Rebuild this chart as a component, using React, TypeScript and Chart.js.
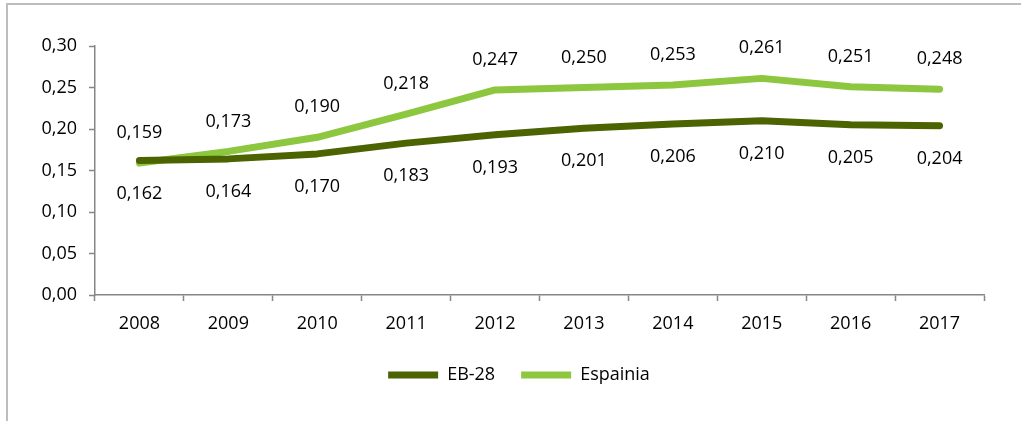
import React, { useEffect, useRef } from "react";
import { Chart, registerables } from "chart.js";

Chart.register(...registerables);

const years = ["2008", "2009", "2010", "2011", "2012", "2013", "2014", "2015", "2016", "2017"];
const eb28 = [0.162, 0.164, 0.17, 0.183, 0.193, 0.201, 0.206, 0.21, 0.205, 0.204];
const espainia = [0.159, 0.173, 0.19, 0.218, 0.247, 0.25, 0.253, 0.261, 0.251, 0.248];
const seriesNames = ["EB-28", "Espainia"];
const seriesColors = ["#4B6300", "#8DC63F"];

const FONT = "'Open Sans', sans-serif";

const dataLabels = {
  id: "dataLabels",
  afterDatasetsDraw(chart: any) {
    const ctx = chart.ctx;
    ctx.save();
    ctx.font = `18px ${FONT}`;
    ctx.fillStyle = "#000";
    ctx.textAlign = "center";
    ctx.textBaseline = "middle";
    chart.data.datasets.forEach((ds: any, di: number) => {
      const meta = chart.getDatasetMeta(di);
      meta.data.forEach((pt: any, i: number) => {
        const v = ds.data[i] as number;
        const txt = v.toFixed(3).replace(".", ",");
        const dy = di === 1 ? -30 : 33;
        ctx.fillText(txt, pt.x, pt.y + dy);
      });
    });
    ctx.restore();
  },
};

const legendShift = {
  id: "legendShift",
  afterLayout(chart: any) {
    const lg = chart.legend;
    if (lg) {
      lg.left += 27;
      lg.right += 27;
    }
  },
};

export default function App() {
  const ref = useRef<HTMLCanvasElement | null>(null);
  useEffect(() => {
    if (!ref.current) return;
    const chart = new Chart(ref.current, {
      type: "line",
      data: {
        labels: years,
        datasets: [
          {
            label: seriesNames[0],
            data: eb28,
            borderColor: seriesColors[0],
            backgroundColor: seriesColors[0],
            borderWidth: 7,
            borderCapStyle: "round",
            borderJoinStyle: "round",
            pointRadius: 0,
            tension: 0,
          },
          {
            label: seriesNames[1],
            data: espainia,
            borderColor: seriesColors[1],
            backgroundColor: seriesColors[1],
            borderWidth: 7,
            borderCapStyle: "round",
            borderJoinStyle: "round",
            pointRadius: 0,
            tension: 0,
          },
        ],
      },
      options: {
        animation: false,
        responsive: false,
        maintainAspectRatio: false,
        layout: { padding: { left: 0, right: 37, top: 46, bottom: 27 } },
        plugins: {
          tooltip: { enabled: false },
          legend: {
            position: "bottom",
            labels: {
              usePointStyle: true,
              pointStyle: "line",
              pointStyleWidth: 50,
              boxHeight: 7,
              padding: 26,
              color: "#000",
              font: { family: FONT, size: 18 },
            },
          },
        },
        scales: {
          x: {
            offset: true,
            afterFit: (s: any) => {
              s.height = 45;
            },
            grid: {
              display: true,
              drawOnChartArea: false,
              drawTicks: true,
              tickLength: 6,
              tickColor: "#868686",
              tickWidth: 1.5,
              offset: true,
            },
            border: { display: true, color: "#868686", width: 1.5 },
            ticks: { color: "#000", font: { family: FONT, size: 18 }, padding: 12, maxRotation: 0 },
          },
          y: {
            min: 0,
            max: 0.3,
            afterFit: (s: any) => {
              s.width = 95;
            },
            grid: {
              display: true,
              drawOnChartArea: false,
              drawTicks: true,
              tickLength: 6,
              tickColor: "#868686",
              tickWidth: 1.5,
            },
            border: { display: true, color: "#868686", width: 1.5 },
            ticks: {
              stepSize: 0.05,
              color: "#000",
              padding: 12,
              font: { family: FONT, size: 18 },
              callback: (v: any) => Number(v).toFixed(2).replace(".", ","),
            },
          },
        },
      },
      plugins: [dataLabels, legendShift],
    });
    return () => chart.destroy();
  }, []);
  return (
    <div style={{ position: "absolute", left: 0, top: 0, width: 1021, height: 421, background: "#fff" }}>
      <div
        style={{
          position: "absolute",
          left: 6,
          top: 3,
          right: 0,
          bottom: 0,
          borderTop: "2px solid #bdbdbd",
          borderLeft: "2px solid #bdbdbd",
        }}
      />
      <canvas ref={ref} width={1021} height={421} style={{ position: "absolute", left: 0, top: 0 }} />
    </div>
  );
}
